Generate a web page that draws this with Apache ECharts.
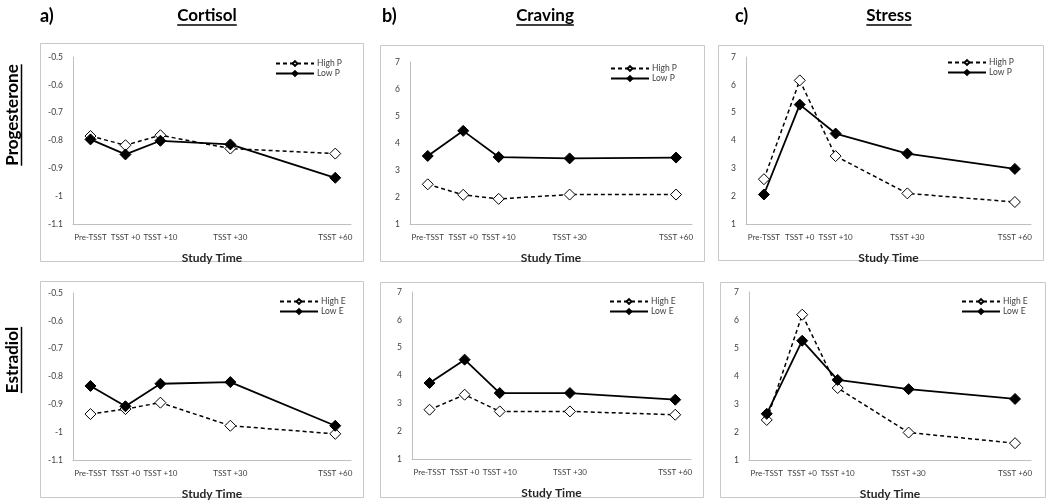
<!DOCTYPE html>
<html>
<head>
<meta charset="utf-8">
<script src="https://cdn.jsdelivr.net/npm/echarts@6/dist/echarts.min.js"></script>
<style>
html,body{margin:0;padding:0;background:#fff;}
#chart{width:1050px;height:503px;}
</style>
</head>
<body>
<div id="chart"></div>
<script>
// ---------- data ----------
const timePoints = [-10, 0, 10, 30, 60];
const timeLabels = ['Pre-TSST', 'TSST +0', 'TSST +10', 'TSST +30', 'TSST +60'];

const cortisolHighP = [-0.784, -0.817, -0.781, -0.829, -0.847];
const cortisolLowP  = [-0.796, -0.850, -0.801, -0.814, -0.934];
const cravingHighP  = [2.47, 2.08, 1.93, 2.09, 2.09];
const cravingLowP   = [3.52, 4.45, 3.48, 3.43, 3.46];
const stressHighP   = [2.61, 6.16, 3.44, 2.10, 1.79];
const stressLowP    = [2.06, 5.29, 4.25, 3.53, 2.98];

const cortisolHighE = [-0.935, -0.917, -0.894, -0.977, -1.006];
const cortisolLowE  = [-0.834, -0.907, -0.826, -0.820, -0.977];
const cravingHighE  = [2.77, 3.31, 2.71, 2.71, 2.59];
const cravingLowE   = [3.73, 4.57, 3.37, 3.37, 3.13];
const stressHighE   = [2.43, 6.19, 3.57, 1.98, 1.60];
const stressLowE    = [2.65, 5.26, 3.86, 3.53, 3.18];

const columnTitles = ['Cortisol', 'Craving', 'Stress'];
const columnLetters = ['a)', 'b)', 'c)'];
const rowTitles = ['Progesterone', 'Estradiol'];
const xAxisName = 'Study Time';

// ---------- layout ----------
const FONT = 'Lato, "Open Sans", sans-serif';
const panels = [
  {grid:{left:73, top:57, width:278, height:167}, box:[40,43,323,218], legend:{left:275, top:59},
   high:cortisolHighP, low:cortisolLowP, names:['High P','Low P'], y:{min:-1.1, max:-0.5, interval:0.1}},
  {grid:{left:410, top:62, width:282, height:162}, box:[380,45,324,216], legend:{left:610, top:64},
   high:cravingHighP, low:cravingLowP, names:['High P','Low P'], y:{min:1, max:7, interval:1}},
  {grid:{left:746, top:57, width:285, height:167}, box:[718,45,325,215], legend:{left:947, top:58},
   high:stressHighP, low:stressLowP, names:['High P','Low P'], y:{min:1, max:7, interval:1}},
  {grid:{left:73, top:293, width:278, height:167}, box:[40,281,323,216], legend:{left:279, top:297},
   high:cortisolHighE, low:cortisolLowE, names:['High E','Low E'], y:{min:-1.1, max:-0.5, interval:0.1}},
  {grid:{left:412, top:292, width:279, height:167}, box:[380,282,323,215], legend:{left:609, top:297},
   high:cravingHighE, low:cravingLowE, names:['High E','Low E'], y:{min:1, max:7, interval:1}},
  {grid:{left:749, top:292, width:282, height:168}, box:[720,282,325,215], legend:{left:961, top:297},
   high:stressHighE, low:stressLowE, names:['High E','Low E'], y:{min:1, max:7, interval:1}}
];

const axisGray = '#bfbfbf';
const grids = [], xAxes = [], yAxes = [], series = [], legends = [], graphics = [];

panels.forEach((p, i) => {
  grids.push(Object.assign({containLabel:false}, p.grid));
  xAxes.push({
    type:'value', gridIndex:i, min:-15, max:64.5,
    axisLine:{show:true, onZero:false, lineStyle:{color:axisGray, width:1}},
    axisTick:{show:false}, splitLine:{show:false},
    axisLabel:{
      customValues: timePoints, hideOverlap:false,
      formatter: v => { const k = timePoints.indexOf(Math.round(v)); return k >= 0 ? timeLabels[k] : ''; },
      fontSize:8, color:'#404040', fontFamily:FONT, margin:9
    },
    name:xAxisName, nameLocation:'middle', nameGap:28,
    nameTextStyle:{fontSize:12, fontWeight:'bold', color:'#262626', fontFamily:FONT}
  });
  yAxes.push({
    type:'value', gridIndex:i, min:p.y.min, max:p.y.max, interval:p.y.interval,
    axisLine:{show:true, onZero:false, lineStyle:{color:axisGray, width:1}},
    axisTick:{show:false}, splitLine:{show:false},
    axisLabel:{fontSize:8.5, color:'#404040', fontFamily:FONT, margin:10,
      formatter: v => String(parseFloat(Number(v).toFixed(2)))}
  });
  series.push({
    name:p.names[0], type:'line', xAxisIndex:i, yAxisIndex:i,
    data: timePoints.map((t, k) => [t, p.high[k]]),
    symbol:'diamond', symbolSize:11,
    lineStyle:{color:'#000', width:1.5, type:[4,3]},
    itemStyle:{color:'#fff', borderColor:'#000', borderWidth:1},
    emphasis:{disabled:true}, animation:false, z:2
  });
  series.push({
    name:p.names[1], type:'line', xAxisIndex:i, yAxisIndex:i,
    data: timePoints.map((t, k) => [t, p.low[k]]),
    symbol:'diamond', symbolSize:11,
    lineStyle:{color:'#000', width:1.8, type:'solid'},
    itemStyle:{color:'#000', borderColor:'#000', borderWidth:1},
    emphasis:{disabled:true}, animation:false, z:3
  });
  legends.push({
    orient:'vertical', left:p.legend.left, top:p.legend.top, padding:0,
    itemWidth:38, itemHeight:6, itemGap:1, selectedMode:false,
    data:p.names, textStyle:{fontSize:8.5, color:'#404040', fontFamily:FONT, padding:[0,0,0,-2]}
  });
  graphics.push({
    type:'rect', silent:true, z:-1,
    shape:{x:p.box[0]+0.5, y:p.box[1]+0.5, width:p.box[2], height:p.box[3]},
    style:{fill:'none', stroke:'#c8c8c8', lineWidth:1}
  });
});

// Titles with underline
const ctx = document.createElement('canvas').getContext('2d');
function tw(str, font){ ctx.font = font; return ctx.measureText(str).width; }
const titleFont = 'bold 17px ' + FONT;
const colCenters = [207, 545, 889];
const letterX = [40, 382, 735];
columnTitles.forEach((t, i) => {
  const w = tw(t, titleFont);
  graphics.push({type:'text', x:colCenters[i], y:16, silent:true,
    style:{text:t, font:titleFont, fill:'#000', align:'center', verticalAlign:'middle'}});
  graphics.push({type:'line', silent:true,
    shape:{x1:colCenters[i]-w/2, y1:25, x2:colCenters[i]+w/2, y2:25},
    style:{stroke:'#000', lineWidth:1.5}});
  graphics.push({type:'text', x:letterX[i], y:16, silent:true,
    style:{text:columnLetters[i], font:'bold 18px ' + FONT, fill:'#000', align:'left', verticalAlign:'middle'}});
});
const rowCenters = [115, 360];
rowTitles.forEach((t, i) => {
  const w = tw(t, titleFont);
  graphics.push({type:'text', x:13, y:rowCenters[i], rotation:Math.PI/2, silent:true,
    style:{text:t, font:titleFont, fill:'#000', align:'center', verticalAlign:'middle'}});
  graphics.push({type:'line', silent:true,
    shape:{x1:21.5, y1:rowCenters[i]-w/2, x2:21.5, y2:rowCenters[i]+w/2},
    style:{stroke:'#000', lineWidth:1.5}});
});

const chart = echarts.init(document.getElementById('chart'), null, {renderer:'canvas'});
chart.setOption({
  animation:false,
  backgroundColor:'#fff',
  grid:grids, xAxis:xAxes, yAxis:yAxes, series:series, legend:legends,
  graphic:graphics
});
</script>
</body>
</html>
